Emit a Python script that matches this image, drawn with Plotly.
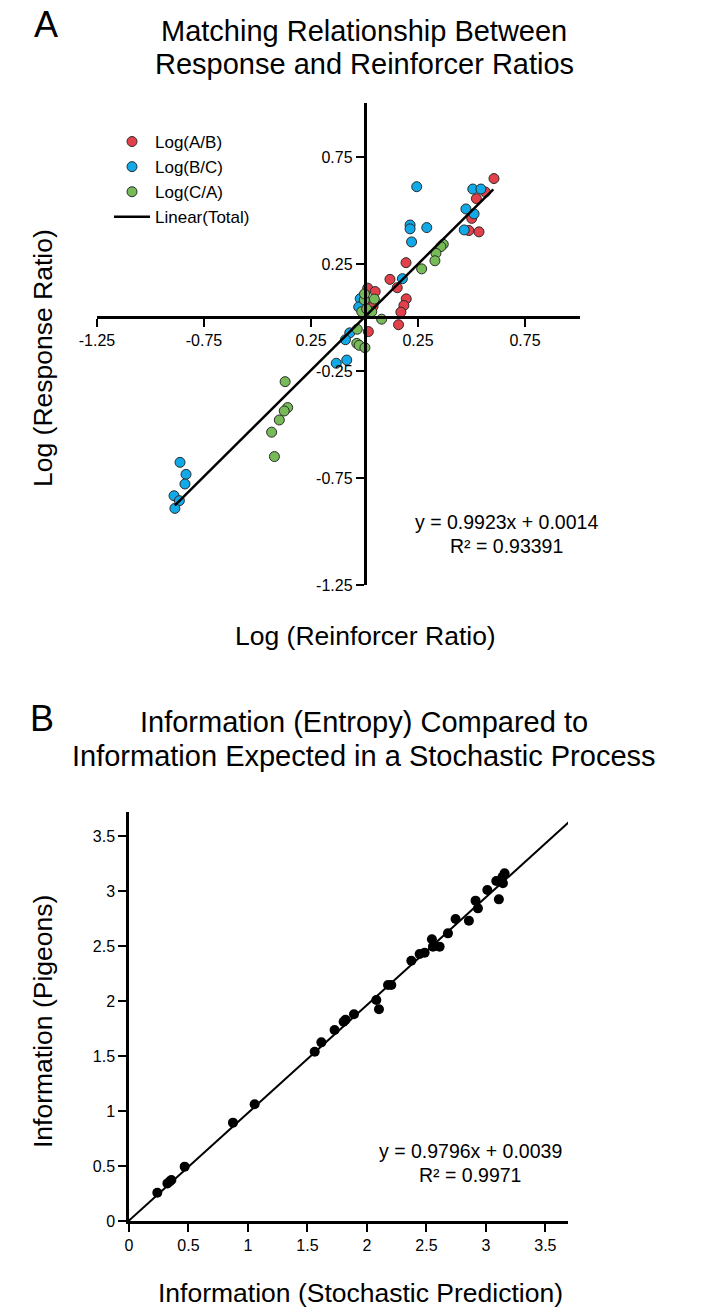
import plotly.graph_objects as go

W, H = 713, 1310
FONT = "Liberation Sans, Arial, Helvetica, sans-serif"

# ---------------- Panel A data ----------------
ab_x = [0.605, 0.565, 0.523, 0.501, 0.488, 0.535, 0.194, 0.119, 0.153, 0.195,
        0.184, 0.170, 0.159, 0.015, 0.050, 0.020, 0.040, 0.018]
ab_y = [0.649, 0.586, 0.555, 0.463, 0.406, 0.400, 0.256, 0.178, 0.139, 0.087,
        0.056, 0.025, -0.034, 0.137, 0.121, 0.062, 0.052, -0.066]

bc_x = [0.244, 0.506, 0.544, 0.474, 0.512, 0.466, 0.213, 0.213, 0.291, 0.220,
        0.177, -0.020, -0.027, -0.069, -0.089, -0.132, -0.083,
        -0.862, -0.834, -0.839, -0.890, -0.865, -0.886]
bc_y = [0.611, 0.600, 0.600, 0.507, 0.484, 0.409, 0.432, 0.414, 0.420, 0.353,
        0.181, 0.088, 0.049, -0.072, -0.104, -0.214, -0.199,
        -0.677, -0.733, -0.778, -0.833, -0.856, -0.892]

ca_x = [0.368, 0.357, 0.334, 0.329, 0.267, 0.080, -0.001, 0.046, -0.013, 0.034,
        0.010, 0.000, -0.034, -0.036, -0.025, 0.002,
        -0.371, -0.359, -0.375, -0.398, -0.434, -0.421]
ca_y = [0.342, 0.331, 0.300, 0.265, 0.227, -0.008, 0.082, 0.086, 0.027, 0.027,
        0.040, 0.110, -0.055, -0.121, -0.130, -0.141,
        -0.300, -0.421, -0.437, -0.479, -0.536, -0.650]

fitA_slope, fitA_int = 0.9923, 0.0014
fitA_x = [-0.886, 0.602]

xA_ticks = [-1.25, -0.75, -0.25, 0.25, 0.75]
xA_labels = ["-1.25", "-0.75", "0.25", "0.25", "0.75"]
yA_ticks = [0.75, 0.25, -0.25, -0.75, -1.25]
yA_labels = ["0.75", "0.25", "-0.25", "-0.75", "-1.25"]

# ---------------- Panel B data ----------------
stoch_x = [0.238, 0.323, 0.356, 0.343, 0.468, 0.874, 1.056, 1.561, 1.617, 1.728,
           1.804, 1.820, 1.891, 2.079, 2.101, 2.177, 2.205, 2.373, 2.443, 2.485,
           2.546, 2.555, 2.611, 2.681, 2.745, 2.857, 2.913, 2.933, 3.012, 3.087,
           3.109, 3.143, 3.157, 3.140]
pigeon_y = [0.257, 0.342, 0.373, 0.360, 0.494, 0.894, 1.061, 1.539, 1.624, 1.736,
            1.812, 1.830, 1.879, 2.009, 1.925, 2.145, 2.145, 2.366, 2.427, 2.439,
            2.561, 2.494, 2.494, 2.615, 2.745, 2.730, 2.912, 2.842, 3.009, 3.091,
            2.924, 3.070, 3.161, 3.130]

fitB_slope, fitB_int = 0.9796, 0.0039
fitB_x = [0.0, 3.73]

B_ticks = [0, 0.5, 1, 1.5, 2, 2.5, 3, 3.5]
B_labels = ["0", "0.5", "1", "1.5", "2", "2.5", "3", "3.5"]

# ---------------- layout geometry (pixels -> paper) ----------------
def px(x):
    return x / W

def py(y):
    return 1 - y / H

xA_range = [-1.25, 1.007]
yA_range = [-1.25, 1.002]
xA_dom = [px(97), px(580)]
yA_dom = [py(585), py(103)]
xA_pos = yA_dom[0] + (0 - yA_range[0]) / (yA_range[1] - yA_range[0]) * (yA_dom[1] - yA_dom[0])
yA_pos = xA_dom[0] + (0 - xA_range[0]) / (xA_range[1] - xA_range[0]) * (xA_dom[1] - xA_dom[0])

xB_range = [0, 3.69]
yB_range = [0, 3.718]
xB_dom = [px(129), px(568)]
yB_dom = [py(1221), py(812)]

RED = "#e2404a"
BLUE = "#12a9e8"
GREEN = "#76bb58"
EDGE = dict(color="#2a2a2a", width=1)

fig = go.Figure()
for name, xs, ys, col in [("Log(A/B)", ab_x, ab_y, RED),
                          ("Log(B/C)", bc_x, bc_y, BLUE),
                          ("Log(C/A)", ca_x, ca_y, GREEN)]:
    fig.add_trace(go.Scatter(x=xs, y=ys, mode="markers", name=name,
                             marker=dict(size=10, color=col, line=EDGE),
                             xaxis="x", yaxis="y"))
fig.add_trace(go.Scatter(x=fitA_x, y=[fitA_slope * v + fitA_int for v in fitA_x],
                         mode="lines", name="Linear(Total)",
                         line=dict(color="black", width=2.5),
                         xaxis="x", yaxis="y"))

fig.add_trace(go.Scatter(x=fitB_x, y=[fitB_slope * v + fitB_int for v in fitB_x],
                         mode="lines", showlegend=False,
                         line=dict(color="black", width=2),
                         xaxis="x2", yaxis="y2"))
fig.add_trace(go.Scatter(x=stoch_x, y=pigeon_y, mode="markers", showlegend=False,
                         marker=dict(size=10, color="black"),
                         xaxis="x2", yaxis="y2"))

axis_common = dict(showgrid=False, zeroline=False, showline=True, linecolor="black",
                   linewidth=2.5, ticks="outside", ticklen=8, tickwidth=2,
                   tickcolor="black", automargin=False,
                   tickfont=dict(family=FONT, size=16, color="black"))

fig.update_layout(
    width=W, height=H,
    margin=dict(l=0, r=0, t=0, b=0),
    paper_bgcolor="white", plot_bgcolor="white",
    font=dict(family=FONT, color="black"),
    xaxis=dict(axis_common, range=xA_range, domain=xA_dom, anchor="free",
               position=xA_pos, tickmode="array", tickvals=xA_ticks,
               ticktext=xA_labels),
    yaxis=dict(axis_common, range=yA_range, domain=yA_dom, anchor="free",
               position=yA_pos, tickmode="array", tickvals=yA_ticks,
               ticktext=yA_labels),
    xaxis2=dict(axis_common, range=xB_range, domain=xB_dom, anchor="y2",
                tickmode="array", tickvals=B_ticks, ticktext=B_labels),
    yaxis2=dict(axis_common, range=yB_range, domain=yB_dom, anchor="x2",
                tickmode="array", tickvals=B_ticks, ticktext=B_labels),
    legend=dict(x=px(109), y=py(124), xanchor="left", yanchor="top",
                bgcolor="rgba(0,0,0,0)", font=dict(family=FONT, size=17),
                tracegroupgap=0, itemwidth=36),
    showlegend=True,
)

def txt(text, x, y, size, angle=0, xanchor="center"):
    fig.add_annotation(text=text, x=px(x), y=py(y), xref="paper", yref="paper",
                       xanchor=xanchor, yanchor="middle", showarrow=False,
                       textangle=angle, font=dict(family=FONT, size=size, color="black"))

# Panel A text
txt("A", 46, 24, 36)
txt("Matching Relationship Between", 364, 31, 29)
txt("Response and Reinforcer Ratios", 364, 64, 29)
txt("Log (Reinforcer Ratio)", 365, 636, 26.5)
txt("Log (Response Ratio)", 43, 358, 26.5, angle=-90)
txt("y = 0.9923x + 0.0014", 507, 522, 19.5)
txt("R² = 0.93391", 507, 546, 19.5)

# Panel B text
txt("B", 42, 718, 36)
txt("Information (Entropy) Compared to", 364, 722, 29)
txt("Information Expected in a Stochastic Process", 364, 756, 29)
txt("Information (Stochastic Prediction)", 360, 1293, 26.5)
txt("Information (Pigeons)", 43, 1022, 26.5, angle=-90)
txt("y = 0.9796x + 0.0039", 470, 1151, 19.5)
txt("R² = 0.9971", 470, 1175, 19.5)

fig.write_html("out.html",
               config={"displayModeBar": False},
               post_script="document.body.style.margin='0px';"
                           "document.body.style.overflow='hidden';")
